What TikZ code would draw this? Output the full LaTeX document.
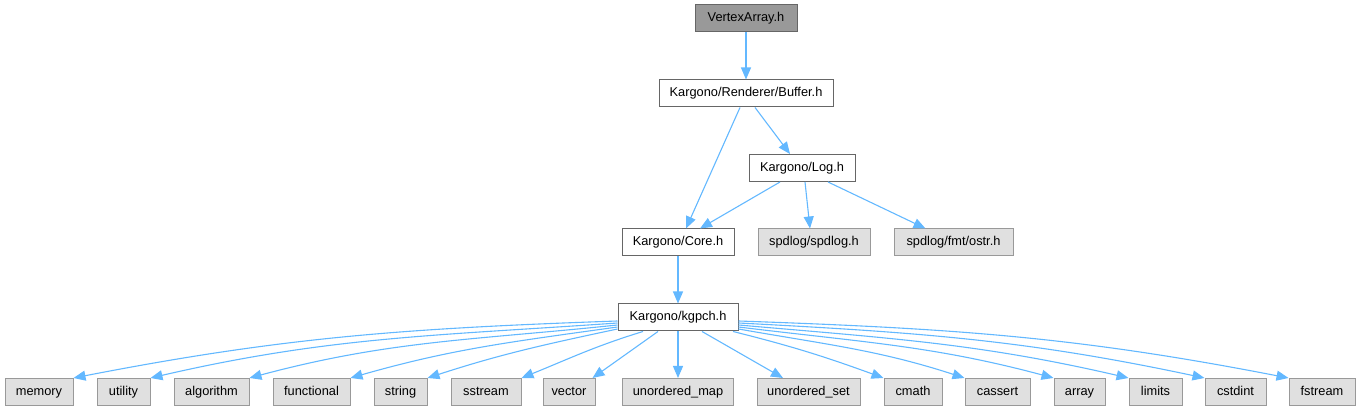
\documentclass[tikz,border=0pt]{standalone}
\usepackage{fontspec}
\setmainfont{Liberation Sans}
\usetikzlibrary{arrows.meta}
\definecolor{edgec}{HTML}{63B8FF}
\definecolor{bordA}{HTML}{666666}
\definecolor{bordB}{HTML}{999999}
\definecolor{fillSys}{HTML}{E0E0E0}
\definecolor{fillTop}{HTML}{999999}
\tikzset{
  box/.style={draw=bordA, fill=white, line width=1pt, minimum height=27pt, inner sep=0pt,
    text height=9.2pt, text depth=2.8pt,
    font=\fontsize{12.8}{15}\selectfont, text=black},
  sysbox/.style={box, draw=bordB, fill=fillSys},
  topbox/.style={box, draw=bordA, fill=fillTop},
  dep/.style={draw=edgec, line width=1.1pt, -{Triangle[length=12pt,width=10pt]}}
}
\begin{document}
\begin{tikzpicture}[x=1pt,y=1pt]
\useasboundingbox (0,0) rectangle (1360,411);
% top levels
\node[topbox, minimum width=102pt] (va) at (746,393) {VertexArray.h};
\node[box, minimum width=174pt] (buf) at (746,317.5) {Kargono/Renderer/Buffer.h};
\node[box, minimum width=106pt] (log) at (802,243) {Kargono/Log.h};
\node[box, minimum width=112pt] (core) at (678,168.5) {Kargono/Core.h};
\node[sysbox, minimum width=112pt] (spd) at (814,168.5) {spdlog/spdlog.h};
\node[sysbox, minimum width=119pt] (ostr) at (953.5,168.5) {spdlog/fmt/ostr.h};
\node[box, minimum width=120pt] (kg) at (678,93.5) {Kargono/kgpch.h};
% bottom row
\node[sysbox, minimum width=68pt] (mem) at (39,19) {memory};
\node[sysbox, minimum width=53pt] (util) at (123.5,19) {utility};
\node[sysbox, minimum width=75pt] (algo) at (211.5,19) {algorithm};
\node[sysbox, minimum width=77pt] (func) at (311.5,19) {functional};
\node[sysbox, minimum width=53pt] (str) at (400.5,19) {string};
\node[sysbox, minimum width=70pt] (sst) at (486,19) {sstream};
\node[sysbox, minimum width=52pt] (vec) at (569,19) {vector};
\node[sysbox, minimum width=111pt] (umap) at (678,19) {unordered\_map};
\node[sysbox, minimum width=103pt] (uset) at (808.5,19) {unordered\_set};
\node[sysbox, minimum width=58pt] (cmath) at (913,19) {cmath};
\node[sysbox, minimum width=65pt] (cass) at (997.5,19) {cassert};
\node[sysbox, minimum width=51pt] (arr) at (1079.5,19) {array};
\node[sysbox, minimum width=53pt] (lim) at (1155.5,19) {limits};
\node[sysbox, minimum width=61pt] (cstd) at (1235.5,19) {cstdint};
\node[sysbox, minimum width=66pt] (fstr) at (1322,19) {fstream};
% upper edges
\draw[dep] (va.south) -- (buf.north);
\draw[dep] ([xshift=-6pt]buf.south) -- ([xshift=8pt]core.north);
\draw[dep] ([xshift=9pt]buf.south) -- ([xshift=-12pt]log.north);
\draw[dep] ([xshift=-22pt]log.south) -- ([xshift=22pt]core.north);
\draw[dep] ([xshift=3pt]log.south) -- ([xshift=-4pt]spd.north);
\draw[dep] ([xshift=26pt]log.south) -- ([xshift=-28pt]ostr.north);
\draw[dep] (core.south) -- (kg.north);
% fan-out
\draw[dep] ([yshift=-3.5pt]kg.west) to[out=182,in=11] (mem.north east);
\draw[dep] ([yshift=-5.5pt]kg.west) to[out=184,in=13] (util.north east);
\draw[dep] ([yshift=-7.5pt]kg.west) to[out=186,in=15] (algo.north east);
\draw[dep] ([yshift=-9.5pt]kg.west) to[out=188,in=16] (func.north east);
\draw[dep] ([yshift=-11.5pt]kg.west) to[out=192,in=18] (str.north east);
\draw[dep] ([xshift=-35pt]kg.south) to[out=197,in=22] (sst.north east);
\draw[dep] ([xshift=-20pt]kg.south) -- ([xshift=-3pt]vec.north east);
\draw[dep] (kg.south) -- (umap.north);
\draw[dep] ([xshift=24pt]kg.south) -- ([xshift=-25.5pt]uset.north);
\draw[dep] ([xshift=55pt]kg.south) to[out=-14,in=160] (cmath.north west);
\draw[dep] ([yshift=-11.5pt]kg.east) to[out=-10,in=162] (cass.north west);
\draw[dep] ([yshift=-9.5pt]kg.east) to[out=-7,in=165] (arr.north west);
\draw[dep] ([yshift=-7.5pt]kg.east) to[out=-5,in=167] (lim.north west);
\draw[dep] ([yshift=-5.5pt]kg.east) to[out=-3,in=168] (cstd.north west);
\draw[dep] ([yshift=-3.5pt]kg.east) to[out=-2,in=169] (fstr.north west);
\end{tikzpicture}
\end{document}
